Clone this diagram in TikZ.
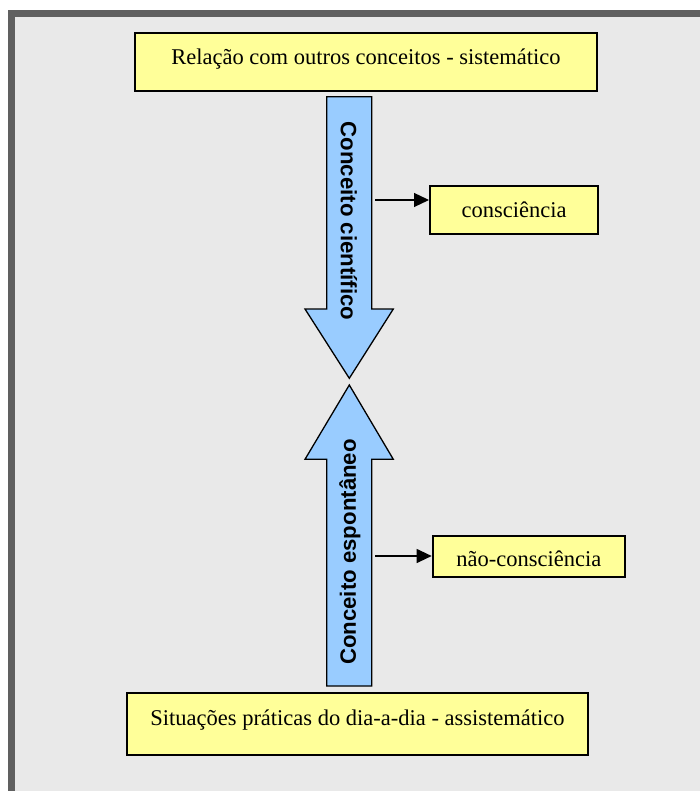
\documentclass[tikz,border=0pt]{standalone}
\usepackage{fontspec}
\setmainfont{Liberation Serif}
\newfontfamily\arrowfont{Liberation Sans}
\usetikzlibrary{arrows.meta}
\definecolor{framegray}{HTML}{606060}
\definecolor{bggray}{HTML}{E9E9E9}
\definecolor{boxyellow}{HTML}{FFFF99}
\definecolor{arrowblue}{HTML}{99CCFF}
\tikzset{
  ybox/.style={draw=black, line width=2pt, fill=boxyellow, inner sep=0pt,
    font=\fontsize{22.5}{24}\selectfont, anchor=base},
  bigarrow/.style={draw=black, line width=1.3pt, fill=arrowblue, line join=miter},
  arrowlabel/.style={font=\arrowfont\bfseries\fontsize{22.2}{24}\selectfont, inner sep=0pt},
  conn/.style={draw=black, line width=1.2pt, -{Triangle[length=15pt,width=14pt]}}
}
\begin{document}
\begin{tikzpicture}[x=1pt,y=-1pt]
\useasboundingbox (0,0) rectangle (700,791);
\fill[white] (0,0) rectangle (700,791);
% frame
\fill[framegray] (8,10) rectangle (710,801);
\fill[bggray] (15,17) rectangle (710,801);
% boxes
\node[ybox, minimum width=462pt, text height=32pt, text depth=26pt] (top) at (366,65) {Relação com outros conceitos - sistemático};
\node[ybox, minimum width=168pt, text height=31.3pt, text depth=16.7pt] (consc) at (514,217.3) {consciência};
\node[ybox, minimum width=192.3pt, text height=31pt, text depth=10pt] (nconsc) at (528.8,566.7) {não-consciência};
\node[ybox, minimum width=461pt, text height=32pt, text depth=30pt] (bottom) at (357.5,725) {Situações práticas do dia-a-dia - assistemático};
% big arrows
\draw[bigarrow] (326.7,96.7) -- (371.7,96.7) -- (371.7,309) -- (393.3,309) -- (349.3,378.3) -- (305,309) -- (326.7,309) -- cycle;
\draw[bigarrow] (349.3,385) -- (393.3,459.3) -- (371.7,459.3) -- (371.7,686) -- (326.7,686) -- (326.7,459.3) -- (305,459.3) -- cycle;
\node[arrowlabel, rotate=-90] (cient) at (349,221) {Conceito científico};
\node[arrowlabel, rotate=90] (espont) at (350,552) {Conceito espontâneo};
% connectors
\coordinate (a1) at (375,200);
\coordinate (a2) at (375,556);
\draw[conn] (a1) -- (a1 -| consc.west);
\draw[conn] (a2) -- (a2 -| nconsc.west);
\end{tikzpicture}
\end{document}
